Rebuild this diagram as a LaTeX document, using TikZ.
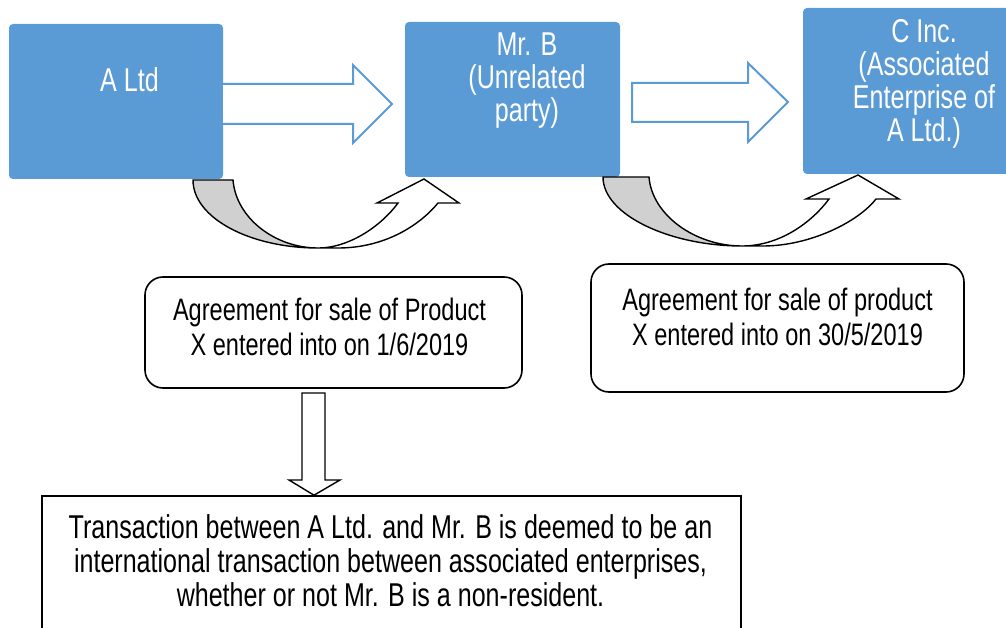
\documentclass[tikz,border=0pt]{standalone}
\usepackage{fontspec}
\setmainfont{Liberation Sans}[FakeStretch=0.76]
\usetikzlibrary{positioning}
\definecolor{partyblue}{HTML}{5B9BD5}
\definecolor{tailgray}{HTML}{D0D0D0}
\tikzset{
  party/.style={fill=partyblue, rounded corners=4pt, inner sep=0pt},
  partytext/.style={text=white, align=center, font=\fontsize{33}{33}\selectfont},
  deal/.style={draw, line width=1.6pt, rounded corners=18pt, inner sep=0pt},
  dealtext/.style={align=center, font=\fontsize{31}{35}\selectfont},
  blockarrow/.style={draw=partyblue, line width=2pt, fill=white, line join=miter},
  bentarrow/.style={draw, line width=1.4pt, line join=miter},
}
\begin{document}
\begin{tikzpicture}[x=1pt, y=-1pt]
    \useasboundingbox (0,0) rectangle (1006,628);
    \node[party, minimum width=214, minimum height=155] (altd) at (116,101.5) {};
    \node[party, minimum width=215, minimum height=155] (mrb) at (512.5,99.5) {};
    \node[party, minimum width=220, minimum height=166] (cinc) at (913,91) {};
    \node[partytext] (altdtext) at (129.5,80) {A Ltd};
    \node[partytext] (mrbtext) at (527,81) {Mr. B\\(Unrelated\\party)};
    \node[partytext] (cinctext) at (924,83.5) {C Inc.\\(Associated\\Enterprise of\\A Ltd.)};
    \draw[blockarrow] (altd.east |- 0,84) -- (353,84) -- (353,65) -- (392,104) -- (353,143) -- (353,124) -- (altd.east |- 0,124);
    \draw[blockarrow] (632,83) -- (748,83) -- (748,63) -- (788,102) -- (748,142) -- (748,122) -- (632,122) -- cycle;
    \draw[bentarrow, fill=tailgray] (193,180) -- (233,180) .. controls (236,218) and (275,248) .. (318,248)
      .. controls (250,248) and (193,218) .. (193,180) -- cycle;
    \draw[bentarrow, fill=white] (318,248) .. controls (350,248) and (382,225) .. (398,203) -- (377,203) -- (424,179)
      -- (459,203) -- (438,203) .. controls (420,225) and (385,248) .. (338,248) -- cycle;
    \draw[bentarrow, fill=tailgray] (603,177) -- (649,177) .. controls (652,215) and (695,246) .. (742,246)
      .. controls (670,246) and (603,215) .. (603,177) -- cycle;
    \draw[bentarrow, fill=white] (742,246) .. controls (780,246) and (812,222) .. (829,199) -- (806,199) -- (858,175)
      -- (899,199) -- (876,199) .. controls (858,222) and (810,246) .. (763,246) -- cycle;
    \node[deal, minimum width=377, minimum height=111] (sale1) at (333.5,332.5) {};
    \node[deal, minimum width=373, minimum height=128] (sale2) at (777.5,328) {};
    \node[dealtext] (sale1text) at (329.5,326.5) {Agreement for sale of Product\\X entered into on 1/6/2019};
    \node[dealtext] (sale2text) at (777.5,317) {Agreement for sale of product\\X entered into on 30/5/2019};
    \node[deal, rounded corners=0pt, minimum width=699, minimum height=160] (deemed) at (391.5,576) {};
    \draw[bentarrow, fill=white] (302,393) -- (325,393) -- (325,480) -- (340,480) -- (deemed.north -| 314,0)
      -- (289,480) -- (302,480) -- cycle;
    \node[dealtext, font=\fontsize{33}{34}\selectfont] (deemedtext) at (390.5,561) {Transaction between A Ltd. and Mr. B is deemed to be an\\international transaction between associated enterprises,\\whether or not Mr. B is a non-resident.};
\end{tikzpicture}
\end{document}
